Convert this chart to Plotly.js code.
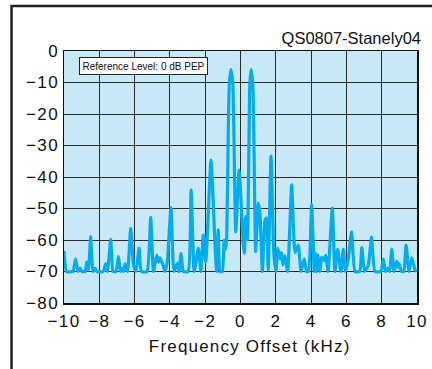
<!DOCTYPE html>
<html>
<head>
<meta charset="utf-8">
<script src="https://cdn.plot.ly/plotly-3.0.1.min.js"></script>
<style>
  html, body { margin: 0; padding: 0; background: #ffffff; }
  #chart { width: 432px; height: 369px; }
  /* the axis lettering is set slightly wide */
  #chart .xtick text, #chart .ytick text { letter-spacing: 1.4px; }
  #chart .annotation.axis-caption text { letter-spacing: 1.2px; }
</style>
</head>
<body>
<div id="chart"></div>
<script>
// Two-tone spectrum: frequency offset (kHz) and level relative to PEP (dB)
const freqKHz = [
  -10.00, -9.85, -9.50, -9.34, -9.21, -9.09, -8.98, -8.80, -8.71, -8.61,
  -8.49, -8.36, -8.24, -8.13, -7.78, -7.64, -7.54, -7.35, -7.22, -7.05,
  -6.92, -6.80, -6.71, -6.63, -6.54, -6.40, -6.22, -6.06, -5.92, -5.75,
  -5.61, -5.30, -5.09, -4.93, -4.75, -4.65, -4.56, -4.37, -4.28, -4.15,
  -3.94, -3.77, -3.58, -3.48, -3.37, -3.23, -2.97, -2.80, -2.62, -2.39,
  -2.24, -2.11, -1.97, -1.67, -1.44, -1.35, -1.26, -1.16, -1.03, -0.92,
  -0.84, -0.78, -0.69, -0.63, -0.54, -0.44, -0.38, -0.27, -0.08, 0.16,
  0.22, 0.29, 0.39, 0.49, 0.53, 0.60, 0.69, 0.75, 0.86, 1.01,
  1.10, 1.24, 1.39, 1.47, 1.57, 1.73, 1.90, 2.01, 2.11, 2.24,
  2.33, 2.41, 2.52, 2.67, 2.90, 3.09, 3.27, 3.43, 3.61, 3.74,
  3.85, 4.03, 4.18, 4.22, 4.30, 4.37, 4.50, 4.60, 4.73, 4.83,
  4.96, 5.20, 5.35, 5.50, 5.69, 5.82, 5.95, 6.11, 6.29, 6.49,
  6.75, 6.87, 7.03, 7.24, 7.42, 7.62, 7.95, 8.09, 8.22, 8.34,
  8.45, 8.57, 8.70, 8.85, 8.92, 8.98, 9.12, 9.25, 9.38, 9.55,
  9.70, 9.89, 10.00
];
const levelDb = [
  -63.5, -70.0, -70.0, -66.1, -70.0, -69.0, -70.0, -70.0, -66.9, -69.5,
  -58.9, -70.0, -69.0, -70.0, -70.0, -67.6, -70.0, -59.8, -70.0, -70.0,
  -65.3, -70.0, -69.0, -70.0, -67.6, -70.0, -56.3, -68.0, -70.0, -62.6,
  -70.0, -70.0, -52.8, -70.0, -64.8, -67.0, -65.6, -68.3, -70.0, -66.9,
  -49.7, -70.0, -67.4, -70.0, -64.2, -70.0, -70.0, -44.1, -70.0, -62.6,
  -70.0, -58.4, -67.0, -34.6, -62.1, -70.0, -56.8, -70.0, -70.0, -60.0,
  -63.0, -59.0, -24.0, -10.0, -5.8, -10.0, -24.0, -57.4, -37.8, -61.6,
  -64.2, -52.6, -60.0, -24.0, -10.0, -5.8, -10.0, -24.0, -63.7, -48.4,
  -51.5, -70.0, -53.7, -53.0, -69.5, -33.4, -65.3, -70.0, -62.6, -66.0,
  -64.0, -68.0, -65.0, -70.0, -42.5, -64.0, -61.6, -70.0, -66.0, -70.0,
  -70.0, -48.7, -70.0, -64.1, -70.0, -64.8, -70.0, -65.4, -66.5, -64.8,
  -70.0, -49.9, -70.0, -63.0, -70.0, -63.0, -70.0, -65.8, -57.4, -70.0,
  -70.0, -62.4, -70.0, -68.0, -59.1, -70.0, -70.0, -66.1, -70.0, -69.0,
  -70.0, -62.9, -70.0, -66.7, -68.5, -67.5, -70.0, -70.0, -61.6, -70.0,
  -65.7, -69.5, -70.0
];

const xTicks = [-10, -8, -6, -4, -2, 0, 2, 4, 6, 8, 10];
const yTicks = [0, -10, -20, -30, -40, -50, -60, -70, -80];

const fontFamily = 'Liberation Sans, Arial, sans-serif';
const minusLabel = v => (v < 0 ? '\u2212' + Math.abs(v) : String(v));

const trace = {
  x: freqKHz,
  y: levelDb,
  type: 'scatter',
  mode: 'lines',
  line: { color: '#00AEEF', width: 3.2, shape: 'spline', smoothing: 0.5 },
  hoverinfo: 'skip'
};

const layout = {
  width: 432,
  height: 369,
  margin: { l: 64, r: 15, t: 51, b: 66 },
  paper_bgcolor: '#ffffff',
  plot_bgcolor: '#C8E8F8',
  showlegend: false,
  font: { family: fontFamily, size: 17, color: '#111111' },
  title: {
    text: 'QS0807-Stanely04',
    xref: 'container', x: 421 / 432, xanchor: 'right',
    yref: 'container', y: 1 - 38 / 369, yanchor: 'middle',
    font: { family: fontFamily, size: 16.5, color: '#111111' }
  },
  xaxis: {
    range: [-10, 10],
    tickvals: xTicks,
    ticktext: xTicks.map(minusLabel),
    ticks: '',
    showgrid: true,
    gridcolor: '#2a2a2a',
    gridwidth: 1,
    zeroline: false,
    showline: true,
    mirror: true,
    linecolor: '#111111',
    linewidth: 1.5,
    ticklabelstandoff: 2,
    tickfont: { family: fontFamily, size: 17, color: '#111111' },
    fixedrange: true
  },
  yaxis: {
    range: [-80, 0],
    tickvals: yTicks,
    ticktext: yTicks.map(minusLabel),
    ticks: '',
    showgrid: true,
    gridcolor: '#2a2a2a',
    gridwidth: 1,
    zeroline: false,
    showline: true,
    mirror: true,
    linecolor: '#111111',
    linewidth: 1.5,
    tickfont: { family: fontFamily, size: 17, color: '#111111' },
    fixedrange: true
  },
  annotations: [{
    text: 'Reference Level: 0 dB PEP',
    xref: 'x', yref: 'y',
    x: -9.15, y: -1.9,
    xanchor: 'left', yanchor: 'top',
    showarrow: false,
    bgcolor: '#ffffff',
    bordercolor: '#222222',
    borderwidth: 1,
    borderpad: 2.5,
    font: { family: fontFamily, size: 10, color: '#111111' }
  }, {
    // x-axis caption, set a little right of the plot centre
    text: 'Frequency Offset (kHz)',
    xref: 'paper', yref: 'paper',
    x: (249 - 64) / 353, y: -(346 - 303) / 252,
    xanchor: 'center', yanchor: 'middle',
    showarrow: false,
    font: { family: fontFamily, size: 17, color: '#111111' }
  }],
  shapes: [{
    // outer frame: top and left edges of the figure box
    type: 'path',
    xref: 'paper', yref: 'paper',
    path: 'M -0.1487 -0.3 L -0.1487 1.1786 L 1.1 1.1786',
    line: { color: '#222222', width: 2.5 }
  }]
};

Plotly.newPlot('chart', [trace], layout, { displayModeBar: false, staticPlot: true }).then(gd => {
  // tag the caption so the wider letter spacing applies to it
  const notes = gd.querySelectorAll('.annotation');
  if (notes.length > 1) notes[1].classList.add('axis-caption');
});
</script>
</body>
</html>
